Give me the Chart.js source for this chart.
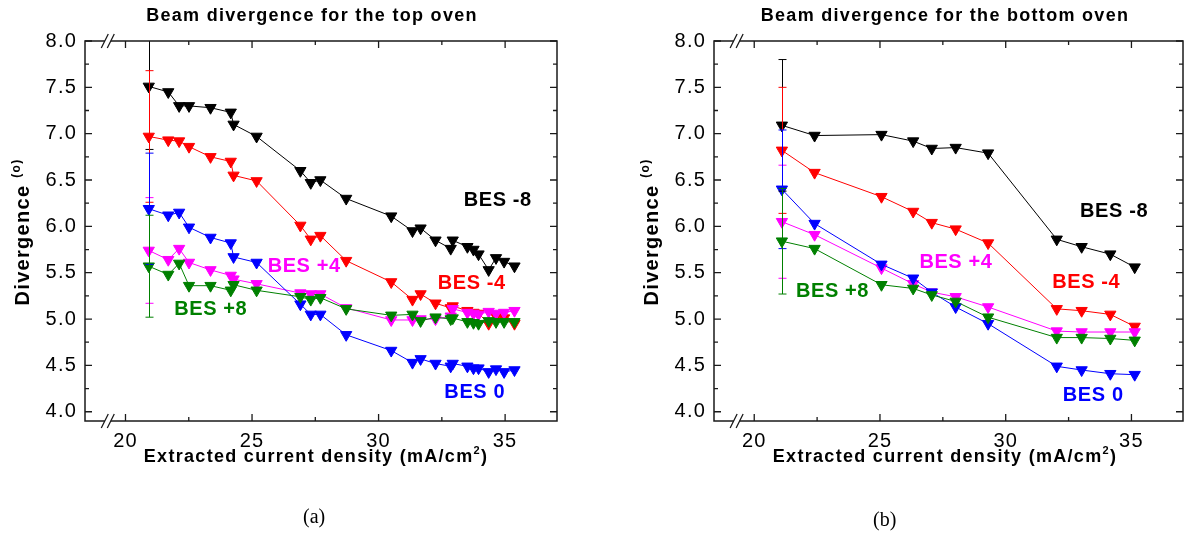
<!DOCTYPE html>
<html>
<head>
<meta charset="utf-8">
<script src="https://cdn.jsdelivr.net/npm/chart.js@4/dist/chart.umd.min.js"></script>
<style>
  html, body { margin: 0; padding: 0; background: #fff; }
  #wrap { position: relative; width: 1185px; height: 533px; overflow: hidden; background: #fff; }
  .layer { position: absolute; left: 0; top: 0; width: 1185px; height: 533px; }
  .cap { position: absolute; font-family: "Liberation Serif", "Times New Roman", serif; font-size: 20px; color: #000; }
</style>
</head>
<body>
<div id="wrap">
  <div class="layer"><canvas id="topOven"></canvas></div>
  <div class="layer"><canvas id="bottomOven"></canvas></div>
  <div class="cap" style="left:303px; top:505px;">(a)</div>
  <div class="cap" style="left:873px; top:508px;">(b)</div>
</div>
<script>
// ---- series styling ----
const seriesNames  = ['BES -8', 'BES -4', 'BES 0', 'BES +4', 'BES +8'];
const seriesColors = ['#000000', '#ff0000', '#0000ff', '#ff00ff', '#008000'];

// ---- top oven: extracted current density (mA/cm2) and divergence (deg) ----
const topX    = [20.92, 21.69, 22.12, 22.51, 23.36, 24.16, 24.27, 25.18, 26.91, 27.32, 27.70, 28.72, 30.50,
                 31.34, 31.66, 32.25, 32.85, 32.93, 33.51, 33.75, 33.95, 34.35, 34.64, 34.96, 35.37];
const topNeg8 = [7.51, 7.45, 7.30, 7.30, 7.28, 7.23, 7.10, 6.97, 6.60, 6.47, 6.50, 6.30, 6.11,
                 5.95, 5.98, 5.85, 5.76, 5.85, 5.78, 5.75, 5.70, 5.53, 5.66, 5.62, 5.57];
const topNeg4 = [6.97, 6.93, 6.92, 6.86, 6.75, 6.70, 6.55, 6.49, 6.01, 5.86, 5.90, 5.63, 5.40,
                 5.21, 5.27, 5.17, 5.12, 5.14, 5.09, 5.07, 5.06, 4.95, 5.03, 5.01, 4.95];
const topZero = [6.19, 6.12, 6.15, 5.99, 5.88, 5.82, 5.67, 5.61, 5.16, 5.05, 5.05, 4.83, 4.66,
                 4.53, 4.57, 4.52, 4.49, 4.52, 4.49, 4.47, 4.47, 4.43, 4.46, 4.43, 4.45];
const topPos4 = [5.74, 5.64, 5.76, 5.61, 5.53, 5.47, 5.43, 5.38, 5.28, 5.27, 5.27, 5.12, 4.99,
                 4.99, 5.00, 5.00, 5.03, 5.11, 5.07, 5.06, 5.05, 5.08, 5.06, 5.07, 5.09];
const topPos8 = [5.57, 5.48, 5.60, 5.36, 5.36, 5.31, 5.37, 5.31, 5.24, 5.21, 5.23, 5.11, 5.04,
                 5.05, 4.98, 5.02, 5.00, 5.01, 4.97, 4.96, 4.95, 4.98, 4.97, 4.97, 4.97];
// uncertainty (+/-) of the first measurement of each series
const topErr  = [0.68, 0.71, 0.60, 0.57, 0.55];

// ---- bottom oven ----
const bottomX    = [21.10, 22.40, 25.06, 26.32, 27.06, 28.01, 29.30, 32.03, 33.02, 34.16, 35.13];
const bottomNeg8 = [7.09, 6.98, 6.99, 6.92, 6.84, 6.85, 6.79, 5.86, 5.78, 5.70, 5.56];
const bottomNeg4 = [6.82, 6.58, 6.32, 6.16, 6.04, 5.97, 5.82, 5.11, 5.09, 5.05, 4.92];
const bottomZero = [6.40, 6.03, 5.59, 5.44, 5.29, 5.13, 4.95, 4.49, 4.45, 4.41, 4.40];
const bottomPos4 = [6.05, 5.91, 5.55, 5.38, 5.29, 5.24, 5.13, 4.87, 4.86, 4.86, 4.86];
const bottomPos8 = [5.84, 5.76, 5.37, 5.33, 5.26, 5.19, 5.02, 4.80, 4.80, 4.79, 4.77];
const bottomErr  = [0.71, 0.68, 0.64, 0.61, 0.57];

// ---- axes ----
const xTicks = [20, 25, 30, 35];
const yTicks = [4.0, 4.5, 5.0, 5.5, 6.0, 6.5, 7.0, 7.5, 8.0];
const xRange = [18.4, 37.05];
const yRange = [3.9, 8.0];
const xBreak = 19.3;

// series label anchors, in data units
const topLabelAt    = [[34.71, 6.28], [33.68, 5.38], [33.80, 4.21], [27.06, 5.57], [23.37, 5.10]];
const bottomLabelAt = [[34.31, 6.16], [33.20, 5.39], [33.48, 4.17], [28.02, 5.61], [23.11, 5.30]];

// stacking: black at the bottom, green on top
const drawOrder = [5, 4, 2, 3, 1];
const FONT = '"Liberation Sans", Arial, Helvetica, sans-serif';

function drawSup(ctx, parts, cx, cy) {
  // parts: [text, size, raise]
  let total = 0;
  const widths = parts.map(([t, s]) => {
    ctx.font = 'bold ' + s + 'px ' + FONT;
    const w = ctx.measureText(t).width;
    total += w;
    return w;
  });
  let x0 = cx - total / 2;
  ctx.textAlign = 'left';
  ctx.textBaseline = 'alphabetic';
  parts.forEach(([t, s, raise], i) => {
    ctx.font = 'bold ' + s + 'px ' + FONT;
    ctx.fillText(t, x0, cy - raise);
    x0 += widths[i];
  });
}

const decor = {
  id: 'decor',
  beforeDraw(chart) {
    chart.ctx.letterSpacing = '1.2px';
  },
  afterDatasetsDraw(chart, args, opts) {
    const { ctx, chartArea: a, scales: { x, y } } = chart;
    ctx.save();
    ctx.beginPath();
    ctx.rect(a.left, a.top, a.right - a.left, a.bottom - a.top);
    ctx.clip();
    const seq = chart.data.datasets.map((d, i) => i).sort((p, q) => drawOrder[q] - drawOrder[p]);
    for (const i of seq) {
      const ds = chart.data.datasets[i];
      const p = ds.data[0];
      const e = opts.errors[i];
      const px = Math.round(x.getPixelForValue(p.x)) + 0.5;
      const yt = y.getPixelForValue(p.y + e);
      const yb = y.getPixelForValue(p.y - e);
      ctx.strokeStyle = ds.borderColor;
      ctx.lineWidth = 1;
      ctx.beginPath();
      ctx.moveTo(px, yt); ctx.lineTo(px, yb);
      ctx.moveTo(px - 4, yt); ctx.lineTo(px + 4, yt);
      ctx.moveTo(px - 4, yb); ctx.lineTo(px + 4, yb);
      ctx.stroke();
    }
    ctx.restore();
  },
  afterDraw(chart, args, opts) {
    const { ctx, chartArea: a, scales: { x, y } } = chart;
    ctx.save();
    // frame
    ctx.strokeStyle = '#1a1a1a';
    ctx.lineWidth = 1.5;
    ctx.strokeRect(a.left, a.top, a.right - a.left, a.bottom - a.top);
    // inward ticks on all four sides
    ctx.lineWidth = 1.3;
    ctx.beginPath();
    const yMinor = yTicks.slice(1).map((v, i) => (v + yTicks[i]) / 2);
    const xMinor = xTicks.slice(1).map((v, i) => (v + xTicks[i]) / 2);
    const ySet = [[yTicks, 7], [yMinor, 4]];
    const xSet = [[xTicks, 7], [xMinor, 4]];
    for (const [vals, len] of ySet) for (const v of vals) {
      const py = y.getPixelForValue(v);
      ctx.moveTo(a.left, py); ctx.lineTo(a.left + len, py);
      ctx.moveTo(a.right, py); ctx.lineTo(a.right - len, py);
    }
    for (const [vals, len] of xSet) for (const v of vals) {
      const px = x.getPixelForValue(v);
      ctx.moveTo(px, a.bottom); ctx.lineTo(px, a.bottom - len);
      ctx.moveTo(px, a.top); ctx.lineTo(px, a.top + len);
    }
    ctx.stroke();
    // axis break marks
    const bx = x.getPixelForValue(xBreak);
    for (const yy of [a.top, a.bottom]) {
      ctx.fillStyle = '#fff';
      ctx.fillRect(bx - 3, yy - 1.5, 6, 3);
      ctx.beginPath();
      for (const dx of [-3, 3]) {
        ctx.moveTo(bx + dx - 3.5, yy + 7);
        ctx.lineTo(bx + dx + 3.5, yy - 7);
      }
      ctx.lineWidth = 1.3;
      ctx.stroke();
    }
    // series labels
    ctx.letterSpacing = '0.6px';
    ctx.font = 'bold 20px ' + FONT;
    ctx.textAlign = 'center';
    ctx.textBaseline = 'middle';
    opts.labelAt.forEach(([lx, ly], i) => {
      ctx.fillStyle = seriesColors[i];
      ctx.fillText(seriesNames[i], x.getPixelForValue(lx), y.getPixelForValue(ly));
    });
    // chart title
    ctx.fillStyle = '#000';
    ctx.letterSpacing = '1.3px';
    ctx.font = 'bold 18px ' + FONT;
    ctx.fillText(opts.title, opts.titleX, 16);
    // x axis title
    drawSup(ctx, [['Extracted current density (mA/cm', 18, 0], ['2', 11, 8], [')', 18, 0]], opts.xTitleX, 462);
    // y axis title
    ctx.save();
    ctx.translate(opts.yTitleX, (a.top + a.bottom) / 2 + 1);
    ctx.rotate(-Math.PI / 2);
    ctx.letterSpacing = '1.3px';
    drawSup(ctx, [['Divergence ', 20, 0], ['(o)', 12, 9]], 0, 7);
    ctx.restore();
    ctx.restore();
  }
};

function pairs(xs, ys) { return xs.map((v, i) => ({ x: v, y: ys[i] })); }

function makeChart(id, xs, ys, errs, labelAt, decorOpts, padding, yWidth) {
  const datasets = ys.map((arr, i) => ({
    label: seriesNames[i],
    data: pairs(xs, arr),
    borderColor: seriesColors[i],
    backgroundColor: seriesColors[i],
    borderWidth: 1,
    pointStyle: 'triangle',
    rotation: 180,
    pointRadius: 6.5,
    pointBorderWidth: 1,
    pointBorderColor: seriesColors[i],
    pointBackgroundColor: seriesColors[i],
    tension: 0,
    order: drawOrder[i],
    clip: false
  }));
  return new Chart(document.getElementById(id), {
    type: 'line',
    data: { datasets },
    plugins: [decor],
    options: {
      responsive: true,
      maintainAspectRatio: false,
      animation: false,
      events: [],
      layout: { autoPadding: false, padding },
      plugins: {
        legend: { display: false },
        tooltip: { enabled: false },
        decor: Object.assign({ errors: errs, labelAt }, decorOpts)
      },
      scales: {
        x: {
          type: 'linear',
          min: xRange[0], max: xRange[1],
          afterBuildTicks: s => { s.ticks = xTicks.map(v => ({ value: v })); },
          afterFit: s => { s.height = 112; },
          grid: { display: false, drawTicks: false },
          border: { display: false },
          ticks: { padding: 8, color: '#000', font: { family: FONT, size: 20 }, callback: v => String(v) }
        },
        y: {
          type: 'linear',
          min: yRange[0], max: yRange[1],
          afterBuildTicks: s => { s.ticks = yTicks.map(v => ({ value: v })); },
          afterFit: s => { s.width = yWidth; },
          grid: { display: false, drawTicks: false },
          border: { display: false },
          ticks: { padding: 8, color: '#000', font: { family: FONT, size: 20 }, callback: v => Number(v).toFixed(1) }
        }
      }
    }
  });
}

makeChart('topOven', topX, [topNeg8, topNeg4, topZero, topPos4, topPos8], topErr, topLabelAt,
  { title: 'Beam divergence for the top oven', titleX: 312, xTitleX: 316, yTitleX: 22 },
  { left: 0, top: 41, right: 628, bottom: 0 }, 85);

makeChart('bottomOven', bottomX, [bottomNeg8, bottomNeg4, bottomZero, bottomPos4, bottomPos8], bottomErr, bottomLabelAt,
  { title: 'Beam divergence for the bottom oven', titleX: 945, xTitleX: 945, yTitleX: 651 },
  { left: 600, top: 41, right: 2, bottom: 0 }, 114);
</script>
</body>
</html>
